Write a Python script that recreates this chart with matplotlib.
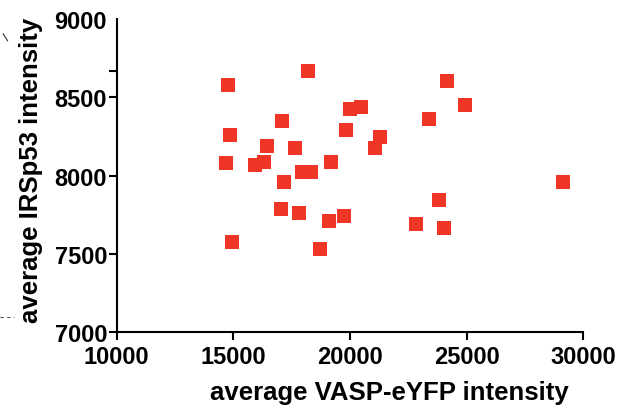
import matplotlib
matplotlib.use("Agg")
import matplotlib.pyplot as plt
from matplotlib.lines import Line2D

# average VASP-eYFP intensity (x) vs average IRSp53 intensity (y)
vasp = [18210, 14780, 17100, 20010, 20480, 19840, 21300, 21080, 14870, 16450,
        17650, 14700, 15940, 16330, 17960, 18310, 19200, 17180, 17060, 17830,
        19110, 19760, 18730, 14960, 24170, 24940, 23400, 23830, 22840, 24040,
        29140]
irsp53 = [8670, 8577, 8347, 8423, 8436, 8289, 8245, 8174, 8257, 8187,
          8174, 8079, 8066, 8085, 8021, 8021, 8085, 7957, 7785, 7760,
          7709, 7740, 7530, 7574, 8602, 8449, 8360, 7843, 7693, 7664,
          7957]

xticks = [10000, 15000, 20000, 25000, 30000]
yticks = [7000, 7500, 8000, 8500, 8670, 9000]
ytick_labels = ['7000', '7500', '8000', '8500', '', '9000']

plt.rcParams['font.family'] = ['Liberation Sans', 'DejaVu Sans']
plt.rcParams['font.weight'] = 'bold'

fig = plt.figure(figsize=(6.31, 4.10), dpi=100)
ax = fig.add_axes([0.185, 0.187, 0.7395, 0.764])

ax.plot(vasp, irsp53, 's', color='#EE3526', markersize=9.4,
        markeredgewidth=0, clip_on=False)

ax.set_xlim(10000, 30000)
ax.set_ylim(7000, 9000)
ax.set_xticks(xticks)
ax.set_yticks(yticks)
ax.set_yticklabels(ytick_labels)
ax.yaxis.get_major_ticks()[-1].tick1line.set_visible(False)

for side in ['top', 'right']:
    ax.spines[side].set_visible(False)
for side in ['left', 'bottom']:
    ax.spines[side].set_linewidth(1.5)

ax.tick_params(axis='both', direction='out', length=6, width=1.5,
               labelsize=17)
ax.tick_params(axis='x', pad=3)
ax.tick_params(axis='y', pad=1)
for lab in ax.get_xticklabels() + ax.get_yticklabels():
    lab.set_fontweight('bold')

ax.set_xlabel('average VASP-eYFP intensity', fontsize=18.5, fontweight='bold')
ax.set_ylabel('average IRSp53 intensity', fontsize=18.5, fontweight='bold')
ax.xaxis.set_label_coords(0.585, -0.152)
ax.yaxis.set_label_coords(-0.158, 0.52)

# stray marks from neighbouring panels at the left edge
fig.add_artist(Line2D([0.0, 0.022], [0.224, 0.224], color='#555555',
                      lw=0.8, ls=(0, (3, 3))))
fig.add_artist(Line2D([0.005, 0.012], [0.915, 0.898], color='#333333',
                      lw=0.8))

fig.savefig('out.png', dpi=100)
